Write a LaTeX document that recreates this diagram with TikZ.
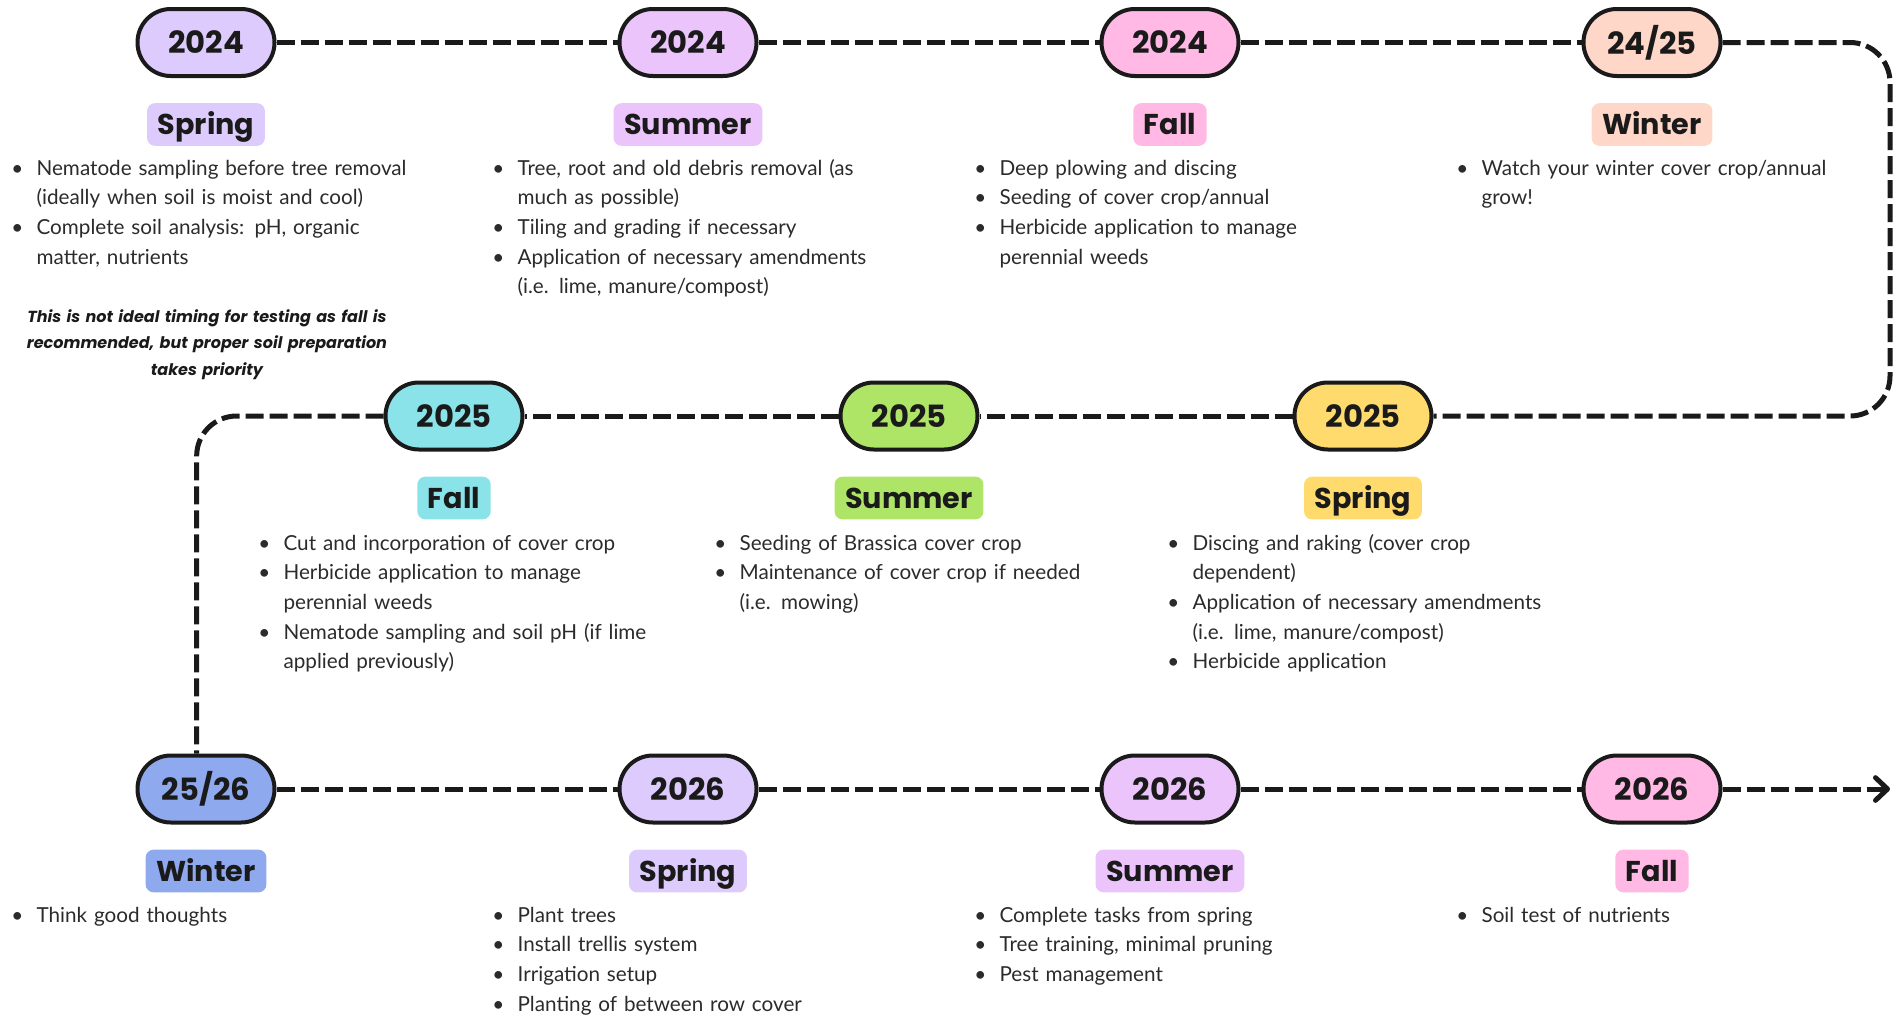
\documentclass[tikz,border=0pt]{standalone}
\usepackage{fontspec}
\setmainfont{Lato}
\newfontfamily\headfont{Poppins}
\usetikzlibrary{arrows.meta}

\definecolor{ink}{HTML}{1A1A1A}
\definecolor{body}{HTML}{2B2B2B}
\definecolor{lilac}{HTML}{DCCBFC}
\definecolor{orchid}{HTML}{ECC4FC}
\definecolor{rose}{HTML}{FFB9E4}
\definecolor{peach}{HTML}{FED7C8}
\definecolor{aqua}{HTML}{8AE3E8}
\definecolor{leaf}{HTML}{AEE567}
\definecolor{sun}{HTML}{FFDB6E}
\definecolor{periwinkle}{HTML}{8FA9EE}

\newcommand{\bul}[1]{\hangindent=19pt\hangafter=1\noindent\makebox[19pt][l]{\textbullet}#1\par}

\tikzset{
  year/.style={draw=ink, line width=3pt, fill=#1, rounded corners=25pt,
    minimum width=102.75pt, minimum height=50.25pt, inner sep=0pt,
    text=ink, font=\headfont\bfseries\fontsize{23}{23}\selectfont},
  season/.style={fill=#1, rounded corners=6pt, minimum height=32pt,
    text height=17.5pt, text depth=2.5pt,
    inner xsep=8pt, inner ysep=0pt, text=ink,
    font=\headfont\bfseries\fontsize{21.5}{21.5}\selectfont},
  tasks/.style={text width=330pt, align=left, inner sep=0pt, anchor=base west,
    text=body, font=\fontsize{15.5}{22.3}\selectfont},
  route/.style={draw=ink, line width=3.75pt, dash pattern=on 13.5pt off 4.5pt},
}

\begin{document}
\begin{tikzpicture}[x=0.75pt, y=-0.75pt]
  \useasboundingbox (0,0) rectangle (1903,1018);

  \node[year=lilac] (sp24) at (206,42.5) {2024};
  \node[year=orchid] (su24) at (688,42.5) {2024};
  \node[year=rose] (fa24) at (1170,42.5) {2024};
  \node[year=peach] (wi24) at (1652,42.5) {24/25};
  \node[year=sun] (sp25) at (1363,416) {2025};
  \node[year=leaf] (su25) at (909,416) {2025};
  \node[year=aqua] (fa25) at (454,416) {2025};
  \node[year=periwinkle] (wi25) at (206,789) {25/26};
  \node[year=lilac] (sp26) at (688,789) {2026};
  \node[year=orchid] (su26) at (1170,789) {2026};
  \node[year=rose] (fa26) at (1652,789) {2026};

  \draw[route] (sp24) -- (su24);
  \draw[route] (su24) -- (fa24);
  \draw[route] (fa24) -- (wi24);
  \draw[route, rounded corners=30pt] (wi24) -- (1890,42.5) -- (1890,416) -- (sp25);
  \draw[route] (sp25) -- (su25);
  \draw[route] (su25) -- (fa25);
  \draw[route, rounded corners=30pt] (fa25) -| ([xshift=-7pt]wi25.north);
  \draw[route] (wi25) -- (sp26);
  \draw[route] (sp26) -- (su26);
  \draw[route] (su26) -- (fa26);
  \draw[route, -{Straight Barb[length=9pt, width=17pt, line cap=round, round]}] (fa26) -- (1890,789);

  \node[season=lilac] (l-sp24) at (206,124.5) {Spring};
  \node[season=orchid] (l-su24) at (688,124.5) {Summer};
  \node[season=rose] (l-fa24) at (1170,124.5) {Fall};
  \node[season=peach] (l-wi24) at (1652,124.5) {Winter};
  \node[season=sun] (l-sp25) at (1363,498) {Spring};
  \node[season=leaf] (l-su25) at (909,498) {Summer};
  \node[season=aqua] (l-fa25) at (454,498) {Fall};
  \node[season=periwinkle] (l-wi25) at (206,871) {Winter};
  \node[season=lilac] (l-sp26) at (688,871) {Spring};
  \node[season=orchid] (l-su26) at (1170,871) {Summer};
  \node[season=rose] (l-fa26) at (1652,871) {Fall};

  \node[tasks] (t-sp24) at (11,175) {%
    \bul{Nematode sampling before tree removal\newline(ideally when soil is moist and cool)}%
    \bul{Complete soil analysis: pH, organic\newline matter, nutrients}};
  \node[text width=300pt, align=center, anchor=base, inner sep=0pt, text=ink,
    font=\headfont\bfseries\itshape\fontsize{12}{20.2}\selectfont] (note) at (207,322)
    {This is not ideal timing for testing as fall is\\recommended, but proper soil preparation\\takes priority};
  \node[tasks] (t-su24) at (492,175) {%
    \bul{Tree, root and old debris removal (as\newline much as possible)}%
    \bul{Tiling and grading if necessary}%
    \bul{Application of necessary amendments\newline(i.e. lime, manure/compost)}};
  \node[tasks] (t-fa24) at (974,175) {%
    \bul{Deep plowing and discing}%
    \bul{Seeding of cover crop/annual}%
    \bul{Herbicide application to manage\newline perennial weeds}};
  \node[tasks] (t-wi24) at (1456,175) {%
    \bul{Watch your winter cover crop/annual\newline grow!}};

  \node[tasks] (t-sp25) at (1167,550) {%
    \bul{Discing and raking (cover crop\newline dependent)}%
    \bul{Application of necessary amendments\newline(i.e. lime, manure/compost)}%
    \bul{Herbicide application}};
  \node[tasks] (t-su25) at (714,550) {%
    \bul{Seeding of Brassica cover crop}%
    \bul{Maintenance of cover crop if needed\newline(i.e. mowing)}};
  \node[tasks] (t-fa25) at (258,550) {%
    \bul{Cut and incorporation of cover crop}%
    \bul{Herbicide application to manage\newline perennial weeds}%
    \bul{Nematode sampling and soil pH (if lime\newline applied previously)}};

  \node[tasks] (t-wi25) at (11,922) {%
    \bul{Think good thoughts}};
  \node[tasks] (t-sp26) at (492,922) {%
    \bul{Plant trees}%
    \bul{Install trellis system}%
    \bul{Irrigation setup}%
    \bul{Planting of between row cover}};
  \node[tasks] (t-su26) at (974,922) {%
    \bul{Complete tasks from spring}%
    \bul{Tree training, minimal pruning}%
    \bul{Pest management}};
  \node[tasks] (t-fa26) at (1456,922) {%
    \bul{Soil test of nutrients}};
\end{tikzpicture}
\end{document}
